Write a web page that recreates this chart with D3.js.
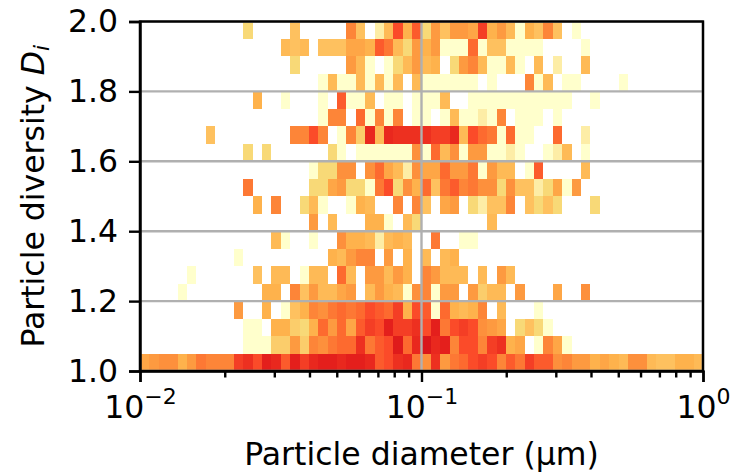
<!DOCTYPE html>
<html>
<head>
<meta charset="utf-8">
<script src="https://d3js.org/d3.v7.min.js"></script>
<style>
  html, body { margin: 0; padding: 0; background: #fff; }
  svg { display: block; }
  text { font-family: "DejaVu Sans", sans-serif; fill: #000; }
</style>
</head>
<body>
<div id="chart"></div>
<script>
const row100 = [5.5,6,6.5,6.5,5,6,7.5,7,7,7, 9.5,10,9,11,10.5,8.5,11,9.5,10.5,11, 11,10.5,11,11,10.5,8.5,9,10,10.5,7.5, 6.5,10,6,7.5,8,9,9.5,9,7,8.5, 7.5,9.5,8.5,8.5,6.5,7,6,6,5,5.5, 5,4.5,6.5,6.5,4.5,4,4,5,5,4.5];
const row105 = [0,0,0,0,0,0,0,0,0,0, 0,1,1,1,3.5,3.5,6,3.5,7,6.5, 7.5,8,8,10,7.5,8.5,9,11.5,8,10.5, 12,10.5,11,7,9,9,7,9.5,10,5, 5.5,0,1,7,5.5,1,0,0,0,0, 0,0,0,0,0,0,0,0,0,0];
const row110 = [0,0,0,0,0,0,0,0,0,0, 0,1,1,0,5,5,3.5,3,5,8, 6,8,5.5,8.5,9.5,9,11,9.5,9.5,10, 9,11,7.5,9,9.5,9,6.5,6,5.5,0, 3,4,3,1,0,0,0,0,0,0, 0,0,0,0,0,0,0,0,0,0];
const row115 = [0,0,0,0,0,0,0,0,0,0, 6,0,0,5,0,1,4,5,7,6.5, 7.5,8,7.5,8,9,8.5,8,9.5,5,9, 8.5,1,8,5,4.5,5,7,0,4.5,0, 0,0,1,0,0,0,0,0,0,0, 0,0,0,0,0,0,0,0,0,0];
const row120 = [0,0,0,0,1,0,0,0,0,0, 0,0,0,5,5,0,7,4,6,4.5, 4.5,5.5,6,0,4.5,6,5,4.5,1,6.5, 7,1,6,6,0,6,3.5,4.5,4.5,0, 6,0,0,0,5.5,0,0,6.5,0,0, 0,0,0,0,0,0,0,0,0,0];
const row125 = [0,0,0,0,0,1,0,0,0,0, 0,0,4,0,4.5,4.5,0,1,4.5,4.5, 0,8,4.5,0,6,6,4.5,6,5,0, 7,6,4.5,4.5,4.5,0,4.5,0,6,4.5, 0,0,0,0,0,0,0,0,0,0, 0,0,0,0,0,0,0,0,0,0];
const row130 = [0,0,0,0,0,0,0,0,0,0, 1,0,0,0,0,0,0,0,0,0, 5,4.5,6,7,7,0,6,0,5,0, 4.5,0,4.5,5,0,0,0,0,0,0, 0,0,0,0,0,0,0,0,0,0, 0,0,0,0,0,0,0,0,0,0];
const row135 = [0,0,0,0,0,0,0,0,0,0, 0,0,0,0,4.5,1,0,0,1,0, 0,6.5,5,5,4.5,2,4.5,5,4.5,0, 0,7.5,0,0,1,1,0,0,0,0, 0,0,0,0,0,0,0,0,0,0, 0,0,0,0,0,0,0,0,0,0];
const row140 = [0,0,0,0,0,0,0,0,0,0, 0,0,0,0,0,0,0,0,6,0, 4.5,0,0,0,5,5,1,0,4.5,3, 0,0,0,0,0,0,0,4.5,0,0, 0,0,0,0,0,0,0,0,0,0, 0,0,0,0,0,0,0,0,0,0];
const row145 = [0,0,0,0,0,0,0,0,0,0, 0,0,5,0,7,0,0,3,4.5,1, 0,0,1,5,4.5,0,0,7,0,7, 4,0,5.5,6,0,3,2,4,4,7, 0,4,3,4,3,0,0,0,3,0, 0,0,0,0,0,0,0,0,0,0];
const row150 = [0,0,0,0,0,0,0,0,0,0, 0,7.5,0,0,0,0,0,0,3,3, 5.5,6,3,3,1,7.5,9,3,6.5,5, 8,4,7.5,8.5,7,7.5,6.5,6.5,3,6.5, 4,4,2,3,5.5,1,6,0,0,0, 0,0,0,0,0,0,0,0,0,0];
const row155 = [0,0,0,0,0,0,0,0,0,0, 0,0,0,0,0,0,0,0,1,3, 3,6.5,6.5,0,6.5,8,5.5,4.5,2,6.5, 5.5,5.5,8,6,6,7.5,1,6,4.5,4.5, 0,1,8.5,0,0,0,0,4.5,0,0, 0,0,0,0,0,0,0,0,0,0];
const row160 = [0,0,0,0,0,0,0,0,0,0, 0,3,0,3,0,0,0,0,0,0, 3,1,0,1,1,1,1,1,1,6.5, 1,8,4.5,6.5,1,6,6,1,1,2, 1,0,0,1,2,4.5,0,1,0,0, 0,0,0,0,0,0,0,0,0,0];
const row165 = [0,0,0,0,0,0,0,4,0,0, 0,0,0,0,0,0,7,7,9,7, 0,1,7,3.5,10.5,4.5,10.5,10,10,10, 10,9.5,9.5,10.5,4.5,9,8,7.5,1,8, 1,1,0,0,8,0,0,2,0,0, 0,0,0,0,0,0,0,0,0,0];
const row170 = [0,0,0,0,0,0,0,0,0,0, 0,0,0,0,0,0,0,0,0,1, 7,7,0,8,1,7,1,7,0,1, 1,0,1,4.5,1,1,2,1,7,0, 1,1,1,0,1,0,0,0,0,0, 0,0,0,0,0,0,0,0,0,0];
const row175 = [0,0,0,0,0,0,0,0,0,0, 0,0,5,0,0,1,0,0,0,1, 0,8.5,1,1,4.5,0,1,1,0,1, 1,1,4.5,0,0,1,1,1,1,1, 1,1,1,1,1,1,0,0,1,0, 0,0,0,0,0,0,0,0,0,0];
const row180 = [0,0,0,0,0,0,0,0,0,0, 0,0,0,0,0,0,0,0,0,1, 4.5,1,1,4.5,1,4.5,1,4.5,0,4.5, 1,1,1,1,1,1,0,1,0,0, 0,7,1,4.5,0,1,1,0,0,0, 0,1,0,0,0,0,0,0,0,0];
const row185 = [0,0,0,0,0,0,0,0,0,0, 0,0,0,0,0,0,3,0,0,0, 0,0,6,4.5,1,0,1,3,4.5,6, 4.5,5,0,3,6,7,4.5,1,1,4.5, 1,0,4.5,0,2,0,0,4.5,0,0, 0,0,0,0,0,0,0,0,0,0];
const row190 = [0,0,0,0,0,0,0,0,0,0, 0,0,0,0,0,4.5,4,4.5,0,4, 4,4,5.5,5.5,5,8.5,7.5,4.5,3,6, 5,6,1,1,1,8,1,4,4,1, 1,1,1,0,0,0,0,1,0,0, 0,0,0,0,0,0,0,0,0,0];
const row195 = [0,0,0,0,0,0,0,0,0,0, 0,3,0,0,0,0,4,0,0,0, 0,0,7,4,0,2,4.5,9,5,8.5, 3,6,4,6,6,5.5,9.5,5,6,4.5, 1,5,4,7,4,0,1,0,0,0, 0,0,0,0,0,0,0,0,0,0];

const rows = [row100,row105,row110,row115,row120,row125,row130,row135,row140,row145,
              row150,row155,row160,row165,row170,row175,row180,row185,row190,row195];

const levels = [1,2,3,4,5,6,7,8,9,10,11,12];
const levelColors = ["#ffffcc","#fdeda6","#f8d977","#fec15f","#feb24c","#fd9a40","#fd8538","#fd6a2f","#fb4b29","#ed3020","#e41f1c","#d9161a"];

const xMajor = [0.01, 0.1, 1];
const xMinor = [0.02,0.03,0.04,0.05,0.06,0.07,0.08,0.09,0.2,0.3,0.4,0.5,0.6,0.7,0.8,0.9];
const yTicks = [1.0, 1.2, 1.4, 1.6, 1.8, 2.0];
const xExponents = ["\u22122", "\u22121", "0"];

const margin = { top: 21.5, right: 40, bottom: 105, left: 140 };
const width = 743 - margin.left - margin.right;
const height = 476 - margin.top - margin.bottom;
const fontSize = 31.5;

const svg = d3.select("#chart")
    .append("svg")
    .attr("width", 743)
    .attr("height", 476)
    .append("g")
    .attr("transform", `translate(${margin.left},${margin.top})`);

const x = d3.scaleLog().domain([0.01, 1]).range([0, width]);
const y = d3.scaleLinear().domain([1, 2]).range([height, 0]);
const color = d3.scaleLinear().domain(levels).range(levelColors);

const nCols = row100.length;
const colEdge = i => 10 ** (-2 + 2 * i / nCols);
const rowEdge = j => 1 + j / rows.length;

rows.forEach((values, j) => {
    svg.append("g").selectAll("rect")
        .data(values.map((v, i) => ({ v, i })).filter(d => d.v > 0))
        .enter()
        .append("rect")
        .attr("x", d => x(colEdge(d.i)))
        .attr("width", d => x(colEdge(d.i + 1)) - x(colEdge(d.i)))
        .attr("y", y(rowEdge(j + 1)))
        .attr("height", y(rowEdge(j)) - y(rowEdge(j + 1)))
        .attr("fill", d => color(d.v))
        .attr("shape-rendering", "crispEdges");
});

// grid sits on top of the cells
svg.append("g").selectAll("line")
    .data(yTicks)
    .enter()
    .append("line")
    .attr("x1", 0).attr("x2", width)
    .attr("y1", d => y(d)).attr("y2", d => y(d))
    .attr("stroke", "#b0b0b0").attr("stroke-width", 2.4);

svg.append("g").selectAll("line")
    .data(xMajor)
    .enter()
    .append("line")
    .attr("x1", d => x(d)).attr("x2", d => x(d))
    .attr("y1", 0).attr("y2", height)
    .attr("stroke", "#b0b0b0").attr("stroke-width", 2.4);

const yAxis = d3.axisLeft(y).tickValues(yTicks).tickFormat(d3.format(".1f")).tickSize(11).tickPadding(11);
const gy = svg.append("g").call(yAxis);
gy.selectAll("text").style("font-size", fontSize + "px");

const gxMinor = svg.append("g")
    .attr("transform", `translate(0,${height})`)
    .call(d3.axisBottom(x).tickValues(xMinor).tickFormat("").tickSize(6.5));
gxMinor.select(".domain").remove();

const gx = svg.append("g")
    .attr("transform", `translate(0,${height})`)
    .call(d3.axisBottom(x).tickValues(xMajor).tickFormat("").tickSize(11));

gx.selectAll(".tick").each(function (d, i) {
    const t = d3.select(this).append("text")
        .attr("y", 47)
        .attr("text-anchor", "middle")
        .style("font-size", fontSize + "px");
    t.append("tspan").text("10");
    t.append("tspan").attr("dy", -14).style("font-size", "22px").text(xExponents[i]);
});

svg.selectAll(".domain").attr("stroke", "#000").attr("stroke-width", 2.4);
svg.selectAll(".tick line").attr("stroke", "#000").attr("stroke-width", 2.4);

svg.append("rect")
    .attr("width", width).attr("height", height)
    .attr("fill", "none").attr("stroke", "#000").attr("stroke-width", 2.4);

svg.append("text")
    .attr("x", width / 2)
    .attr("y", height + 94)
    .attr("text-anchor", "middle")
    .style("font-size", fontSize + "px")
    .text("Particle diameter (\u00b5m)");

const yLabel = svg.append("text")
    .attr("transform", "rotate(-90)")
    .attr("x", -height / 2)
    .attr("y", -96)
    .attr("text-anchor", "middle")
    .style("font-size", fontSize + "px");
yLabel.append("tspan").text("Particle diversity ");
yLabel.append("tspan").style("font-style", "italic").text("D");
yLabel.append("tspan").attr("dy", 5).style("font-size", "22px").style("font-style", "italic").text("i");
</script>
</body>
</html>
